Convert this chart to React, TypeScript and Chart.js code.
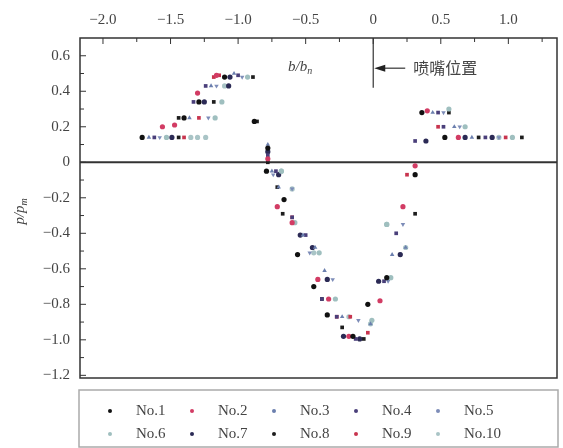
import React, { useEffect, useRef } from "react";
import { Chart, registerables } from "chart.js";

Chart.register(...registerables);

// ---- data ----
const seriesNames = ["No.1", "No.2", "No.3", "No.4", "No.5", "No.6", "No.7", "No.8", "No.9", "No.10"];

const no1X = [-1.71, -1.40, -1.29, -1.10, -0.88, -0.78, -0.79, -0.66, -0.56, -0.44, -0.34, -0.15, -0.04, 0.10, 0.31, 0.36, 0.53];
const no1Y = [0.14, 0.25, 0.34, 0.48, 0.23, 0.08, -0.05, -0.21, -0.52, -0.70, -0.86, -0.98, -0.80, -0.65, -0.07, 0.28, 0.14];
const no2X = [-1.56, -1.47, -1.30, -1.16, -0.78, -0.71, -0.60, -0.41, -0.33, -0.18, 0.05, 0.22, 0.31, 0.40, 0.63];
const no2Y = [0.20, 0.21, 0.39, 0.49, 0.02, -0.25, -0.34, -0.66, -0.77, -0.98, -0.78, -0.25, -0.02, 0.29, 0.14];
const no3X = [-1.66, -1.36, -1.20, -1.03, -0.78, -0.75, -0.70, -0.52, -0.43, -0.36, -0.23, -0.02, 0.14, 0.24, 0.44, 0.60, 0.73];
const no3Y = [0.14, 0.25, 0.43, 0.50, 0.10, -0.05, -0.14, -0.41, -0.48, -0.61, -0.87, -0.91, -0.52, -0.48, 0.28, 0.20, 0.14];
const no4X = [-1.62, -1.33, -1.24, -1.00, -0.78, -0.72, -0.60, -0.50, -0.38, -0.27, -0.13, 0.08, 0.17, 0.31, 0.48, 0.52, 0.83];
const no4Y = [0.14, 0.34, 0.43, 0.49, 0.04, -0.05, -0.31, -0.41, -0.77, -0.87, -0.995, -0.67, -0.40, 0.12, 0.28, 0.20, 0.14];
const no5X = [-1.58, -1.22, -1.16, -0.97, -0.74, -0.60, -0.47, -0.30, -0.11, 0.11, 0.22, 0.52, 0.64, 0.93];
const no5Y = [0.14, 0.25, 0.43, 0.48, -0.07, -0.15, -0.51, -0.66, -0.89, -0.67, -0.35, 0.28, 0.20, 0.14];
const no6X = [-1.53, -1.17, -1.12, -0.93, -0.68, -0.58, -0.40, -0.28, -0.01, 0.13, 0.10, 0.56, 0.68, 1.03];
const no6Y = [0.14, 0.25, 0.34, 0.48, -0.05, -0.34, -0.51, -0.77, -0.89, -0.65, -0.35, 0.30, 0.20, 0.14];
const no7X = [-1.49, -1.25, -1.07, -1.06, -0.78, -0.70, -0.54, -0.45, -0.34, -0.22, -0.10, 0.04, 0.20, 0.39, 0.68, 0.88];
const no7Y = [0.14, 0.34, 0.43, 0.48, 0.06, -0.07, -0.41, -0.48, -0.66, -0.98, -0.995, -0.67, -0.52, 0.12, 0.14, 0.14];
const no8X = [-1.44, -1.44, -1.18, -0.89, -0.86, -0.78, -0.71, -0.67, -0.38, -0.23, -0.07, 0.20, 0.31, 0.56, 0.78, 1.10];
const no8Y = [0.14, 0.25, 0.34, 0.48, 0.23, 0.0, -0.14, -0.29, -0.77, -0.93, -0.995, -0.52, -0.29, 0.28, 0.14, 0.14];
const no9X = [-1.40, -1.29, -1.18, -1.14, -0.60, -0.41, -0.27, -0.17, -0.04, 0.25, 0.48, 0.98];
const no9Y = [0.14, 0.25, 0.48, 0.49, -0.31, -0.66, -0.87, -0.87, -0.96, -0.07, 0.20, 0.14];
const no10X = [-1.35, -1.30, -1.24, -1.10, -0.68, -0.60, -0.44, -0.18, -0.02, 0.10, 0.24, 0.93];
const no10Y = [0.14, 0.14, 0.14, 0.43, -0.05, -0.15, -0.51, -0.87, -0.91, -0.35, -0.48, 0.14];

const seriesX = [no1X, no2X, no3X, no4X, no5X, no6X, no7X, no8X, no9X, no10X];
const seriesY = [no1Y, no2Y, no3Y, no4Y, no5Y, no6Y, no7Y, no8Y, no9Y, no10Y];

const xMajorTicks = [-2.0, -1.5, -1.0, -0.5, 0, 0.5, 1.0];
const xMinorTicks = [-1.75, -1.25, -0.75, -0.25, 0.25, 0.75, 1.25];
const yMajorTicks = [-1.2, -1.0, -0.8, -0.6, -0.4, -0.2, 0, 0.2, 0.4, 0.6];
const yMinorTicks = [-1.1, -0.9, -0.7, -0.5, -0.3, -0.1, 0.1, 0.3, 0.5];

const nozzleX = 0;
const nozzleTopY = 0.42;
const nozzleLabel = "喷嘴位置";
const xTitle = "b/b";
const xTitleSub = "n";
const yTitle = "p/p";
const yTitleSub = "m";

// ---- styles ----
const colors = ["#111111", "#d23c64", "#6b7fae", "#4a3f7a", "#7d8cb8", "#9fbfbf", "#2b2a55", "#1d1d1d", "#c8344e", "#a9c4c6"];
const shapes = ["circle", "circle", "triangle", "rect", "triangle", "circle", "circle", "rect", "rect", "circle"];
const rotations = [0, 0, 0, 0, 180, 0, 0, 0, 0, 0];

const SERIF = "'Liberation Serif', 'DejaVu Serif', serif";
const TEXT = "#444";

const fmt = (v: number) => (Math.abs(v) < 1e-9 ? "0" : v.toFixed(1).replace("-", "\u2212"));

const decorPlugin = {
  id: "decor",
  beforeDatasetsDraw(chart: any) {
    const { ctx, chartArea: a, scales } = chart;
    const y0 = scales.y.getPixelForValue(0);
    ctx.save();
    ctx.strokeStyle = "#333";
    ctx.lineWidth = 2;
    ctx.beginPath();
    ctx.moveTo(a.left, y0);
    ctx.lineTo(a.right, y0);
    ctx.stroke();
    ctx.restore();
  },
  afterDatasetsDraw(chart: any) {
    const { ctx, chartArea: a, scales } = chart;
    const xs = scales.x;
    const ys = scales.y;
    ctx.save();
    // frame
    ctx.strokeStyle = "#333";
    ctx.lineWidth = 1.5;
    ctx.strokeRect(a.left, a.top, a.right - a.left, a.bottom - a.top);
    // ticks
    ctx.lineWidth = 1;
    ctx.beginPath();
    xMajorTicks.forEach((v) => {
      const p = xs.getPixelForValue(v);
      ctx.moveTo(p, a.top);
      ctx.lineTo(p, a.top + 6);
    });
    xMinorTicks.forEach((v) => {
      const p = xs.getPixelForValue(v);
      ctx.moveTo(p, a.top);
      ctx.lineTo(p, a.top + 4);
    });
    yMajorTicks.forEach((v) => {
      const p = ys.getPixelForValue(v);
      ctx.moveTo(a.left, p);
      ctx.lineTo(a.left + 6, p);
    });
    yMinorTicks.forEach((v) => {
      const p = ys.getPixelForValue(v);
      ctx.moveTo(a.left, p);
      ctx.lineTo(a.left + 4, p);
    });
    ctx.stroke();

    // nozzle marker
    const nx = xs.getPixelForValue(nozzleX);
    const ny = ys.getPixelForValue(nozzleTopY);
    ctx.strokeStyle = "#333";
    ctx.lineWidth = 1.2;
    ctx.beginPath();
    ctx.moveTo(nx, a.top);
    ctx.lineTo(nx, ny);
    ctx.stroke();
    const ay = ys.getPixelForValue(0.53);
    ctx.beginPath();
    ctx.moveTo(nx + 10, ay);
    ctx.lineTo(nx + 32, ay);
    ctx.stroke();
    ctx.fillStyle = "#222";
    ctx.beginPath();
    ctx.moveTo(nx + 1, ay);
    ctx.lineTo(nx + 12, ay - 3.5);
    ctx.lineTo(nx + 12, ay + 3.5);
    ctx.closePath();
    ctx.fill();
    ctx.fillStyle = TEXT;
    ctx.font = "16px 'Noto Sans CJK SC', sans-serif";
    ctx.textBaseline = "middle";
    ctx.textAlign = "left";
    ctx.fillText(nozzleLabel, nx + 40, ay);

    // x title
    ctx.font = `italic 15px ${SERIF}`;
    ctx.textBaseline = "alphabetic";
    const tx = xs.getPixelForValue(-0.63);
    const ty = ys.getPixelForValue(0.53) + 3;
    ctx.fillText(xTitle, tx, ty);
    const w = ctx.measureText(xTitle).width;
    ctx.font = `italic 10px ${SERIF}`;
    ctx.fillText(xTitleSub, tx + w, ty + 3);

    // y title
    ctx.save();
    ctx.translate(24, 212);
    ctx.rotate(-Math.PI / 2);
    ctx.font = `italic 15px ${SERIF}`;
    ctx.textAlign = "center";
    ctx.fillText(yTitle, -3, 0);
    const w2 = ctx.measureText(yTitle).width;
    ctx.font = `italic 10px ${SERIF}`;
    ctx.textAlign = "left";
    ctx.fillText(yTitleSub, w2 / 2 - 3, 3);
    ctx.restore();

    // legend
    const lx = a.left;
    const lt = a.bottom + 12;
    ctx.strokeStyle = "#aaa";
    ctx.lineWidth = 1.5;
    ctx.strokeRect(lx - 1, lt, a.right - a.left + 2, 448 - lt - 1);
    ctx.font = `15px ${SERIF}`;
    ctx.textBaseline = "middle";
    ctx.textAlign = "left";
    chart.data.datasets.forEach((ds: any, i: number) => {
      const col = i % 5;
      const row = Math.floor(i / 5);
      const mx = lx + 30 + col * 82;
      const my = lt + 21 + row * 23;
      ctx.fillStyle = ds.backgroundColor;
      ctx.beginPath();
      ctx.arc(mx, my, 2, 0, Math.PI * 2);
      ctx.fill();
      ctx.fillStyle = TEXT;
      ctx.fillText(ds.label, mx + 26, my);
    });
    ctx.restore();
  },
};

export default function App() {
  const ref = useRef<HTMLCanvasElement>(null);
  useEffect(() => {
    document.body.style.margin = "0";
    const datasets = seriesNames.map((name, i) => ({
      label: name,
      data: seriesX[i].map((x, j) => ({ x, y: seriesY[i][j] })),
      backgroundColor: colors[i],
      borderColor: colors[i],
      pointStyle: shapes[i],
      rotation: rotations[i],
      pointRadius: 2.6,
      borderWidth: 0,
      showLine: false,
    }));
    const chart = new Chart(ref.current!, {
      type: "scatter",
      data: { datasets },
      plugins: [decorPlugin],
      options: {
        animation: false,
        responsive: false,
        layout: { padding: { left: 0, right: 6, top: 0, bottom: 70 } },
        plugins: { legend: { display: false }, tooltip: { enabled: false } },
        scales: {
          x: {
            type: "linear",
            position: "top",
            min: -2.17,
            max: 1.36,
            grid: { display: false, drawTicks: false },
            border: { display: false },
            afterBuildTicks: (s: any) => {
              s.ticks = xMajorTicks.map((v) => ({ value: v }));
            },
            afterFit: (s: any) => {
              s.height = 38;
            },
            ticks: {
              padding: 9,
              maxRotation: 0,
              autoSkip: false,
              color: TEXT,
              font: { family: SERIF, size: 15 },
              callback: (v: any) => fmt(Number(v)),
            },
          },
          y: {
            type: "linear",
            min: -1.215,
            max: 0.70,
            grid: { display: false, drawTicks: false },
            border: { display: false },
            afterBuildTicks: (s: any) => {
              s.ticks = yMajorTicks.map((v) => ({ value: v }));
            },
            afterFit: (s: any) => {
              s.width = 80;
            },
            ticks: {
              padding: 10,
              autoSkip: false,
              color: TEXT,
              font: { family: SERIF, size: 15 },
              callback: (v: any) => fmt(Number(v)),
            },
          },
        },
      },
    });
    return () => chart.destroy();
  }, []);
  return <canvas ref={ref} width={563} height={448} style={{ display: "block" }} />;
}
